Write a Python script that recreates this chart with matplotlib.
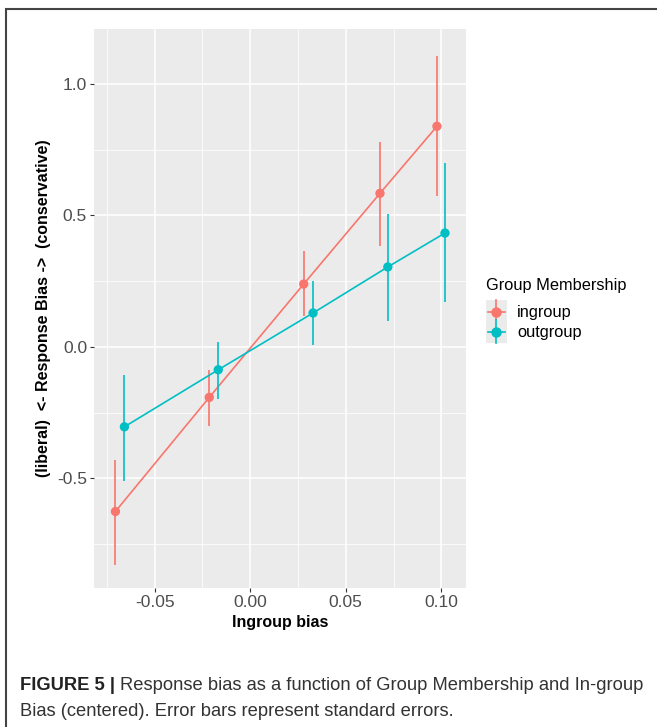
import matplotlib
matplotlib.use("Agg")
import matplotlib.pyplot as plt
from matplotlib.patches import Rectangle
from matplotlib.lines import Line2D
from matplotlib.legend_handler import HandlerLine2D

plt.rcParams['font.family'] = ['Liberation Sans', 'DejaVu Sans']

groups = ["ingroup", "outgroup"]
colors = {"ingroup": "#F8766D", "outgroup": "#00BFC4"}

ingroup_x = [-0.0705, -0.0214, 0.0280, 0.0679, 0.0977]
ingroup_y = [-0.626, -0.192, 0.239, 0.584, 0.839]
ingroup_lo = [-0.83, -0.30, 0.118, 0.383, 0.573]
ingroup_hi = [-0.43, -0.087, 0.364, 0.780, 1.108]

outgroup_x = [-0.0658, -0.0167, 0.0329, 0.0720, 0.1019]
outgroup_y = [-0.304, -0.087, 0.129, 0.304, 0.433]
outgroup_lo = [-0.51, -0.197, 0.008, 0.100, 0.170]
outgroup_hi = [-0.106, 0.019, 0.250, 0.505, 0.700]

xticks = [-0.05, 0.00, 0.05, 0.10]
xticklabels = ["-0.05", "0.00", "0.05", "0.10"]
yticks = [-0.5, 0.0, 0.5, 1.0]
yticklabels = ["-0.5", "0.0", "0.5", "1.0"]

series = {
    "ingroup": (ingroup_x, ingroup_y, ingroup_lo, ingroup_hi),
    "outgroup": (outgroup_x, outgroup_y, outgroup_lo, outgroup_hi),
}

W, H = 657, 727
fig = plt.figure(figsize=(W / 100, H / 100), dpi=100)
fig.patch.set_facecolor("white")

# outer frame
fig.add_artist(Rectangle((6 / W, -0.01), 1.0, 1 - 9 / H + 0.01, transform=fig.transFigure,
                         fill=False, edgecolor="#444444", linewidth=1.5))

ax = fig.add_axes([94 / W, 1 - 588 / H, (466 - 94) / W, (588 - 29) / H])
ax.set_facecolor("#EBEBEB")
for s in ax.spines.values():
    s.set_visible(False)

ax.set_xlim(-0.0817, 0.1129)
ax.set_ylim(-0.917, 1.209)

ax.set_xticks(xticks)
ax.set_xticklabels(xticklabels)
ax.set_yticks(yticks)
ax.set_yticklabels(yticklabels)
ax.set_xticks([-0.075, -0.025, 0.025, 0.075], minor=True)
ax.set_yticks([-0.75, -0.25, 0.25, 0.75], minor=True)
ax.grid(which="major", color="white", linewidth=1.1)
ax.grid(which="minor", color="white", linewidth=0.55)
ax.set_axisbelow(True)
ax.tick_params(which="major", length=3, width=0.8, color="#333333",
               labelsize=12.5, labelcolor="#4D4D4D", pad=2)
ax.tick_params(which="minor", length=0)

for g in groups:
    x, y, lo, hi = series[g]
    c = colors[g]
    ax.plot(x, y, color=c, linewidth=1.2, zorder=3)
    ax.vlines(x, lo, hi, color=c, linewidth=1.2, zorder=3)
    ax.scatter(x, y, s=45, color=c, zorder=4, edgecolors="none")

ax.set_xlabel("Ingroup bias", fontsize=11.5, fontweight="bold", labelpad=4)
ax.set_ylabel("(liberal)  <- Response Bias ->  (conservative)", fontsize=11.5,
              fontweight="bold", labelpad=4)


class VHandler(HandlerLine2D):
    def create_artists(self, legend, orig_handle, xdescent, ydescent, width, height, fontsize, trans):
        cx = width / 2 - xdescent
        cy = height / 2 - ydescent
        bg = Rectangle((-xdescent, -ydescent - 2.5), width, height + 5, facecolor="#EBEBEB",
                       edgecolor="none", transform=trans)
        col = orig_handle.get_color()
        h = Line2D([-xdescent + 1.5, width - xdescent - 1.5], [cy, cy], color=col, lw=1.2, transform=trans)
        v = Line2D([cx, cx], [-ydescent - 2.5, height - ydescent + 2.5], color=col, lw=1.2, transform=trans)
        m = Line2D([cx], [cy], marker="o", color=col, markersize=6.5, lw=0, transform=trans)
        return [bg, h, v, m]


handles = [Line2D([0], [0], color=colors[g], marker="o", markersize=6.5, linewidth=1.2)
           for g in groups]
leg = fig.legend(handles, groups, loc="upper left",
                 bbox_to_anchor=(471 / W, 1 - 289 / H), frameon=False, fontsize=11.8,
                 handlelength=1.3, handleheight=1.15,
                 handletextpad=0.6, labelspacing=0.2,
                 handler_map={Line2D: VHandler()})
fig.text(486 / W, 1 - 285 / H, "Group Membership", fontsize=11.8, color="black",
         ha="left", va="center")

# caption
fig.canvas.draw()
r = fig.canvas.get_renderer()
t1 = fig.text(20 / W, 1 - 685.5 / H, "FIGURE 5 |", fontsize=13.2, fontweight="bold",
              color="#222222", va="center", ha="left")
bb = t1.get_window_extent(renderer=r)
fig.text((bb.x1 + 5) / W, 1 - 685.5 / H,
         "Response bias as a function of Group Membership and In-group",
         fontsize=13.2, color="#333333", va="center", ha="left")
fig.text(20 / W, 1 - 711 / H, "Bias (centered). Error bars represent standard errors.",
         fontsize=13.2, color="#333333", va="center", ha="left")

fig.savefig("out.png", dpi=100)
